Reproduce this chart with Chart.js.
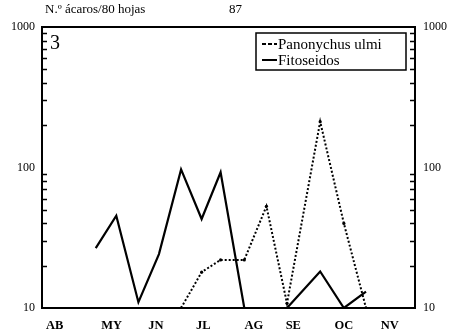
<!DOCTYPE html>
<html>
<head>
<meta charset="utf-8">
<script src="https://cdn.jsdelivr.net/npm/chart.js@4"></script>
<style>
html,body{margin:0;padding:0;background:#fff;overflow:hidden;}
canvas{display:block;}
</style>
</head>
<body>
<canvas id="c" width="455" height="334" style="width:455px;height:334px;"></canvas>
<script>
// Sampling dates: days counted from the start of the plotted period
const panonychusDays = [88, 101, 113, 128, 142, 155, 176, 191, 205];
const panonychusValues = [10, 18, 22, 22, 53, 10.8, 212, 40, 10];
const fitoseidosDays = [34, 47, 61, 74, 88, 101, 113, 128, 142, 155, 176, 191, 205];
const fitoseidosValues = [26.7, 45.4, 11, 24.2, 97, 43, 92.5, 10, 10, 10, 18.2, 10, 13.1];
const monthLabels = ['AB', 'MY', 'JN', 'JL', 'AG', 'SE', 'OC', 'NV'];
const monthTickDays = [8, 44, 72, 102, 134, 159, 191, 220];
const yTickValues = [10, 100, 1000];
const yMinorValues = [20, 30, 40, 50, 60, 70, 80, 90, 200, 300, 400, 500, 600, 700, 800, 900];
const seriesNames = ['Panonychus ulmi', 'Fitoseidos'];
const yAxisTitle = 'N.º ácaros/80 hojas';
const figureNumber = '87';
const panelLabel = '3';

const SERIF = '"Liberation Serif", "DejaVu Serif", serif';

const toXY = (xs, ys) => xs.map((x, i) => ({x: x, y: ys[i]}));

const framePlugin = {
  id: 'frame',
  afterDatasetsDraw(chart) {
    const {ctx, chartArea: a} = chart;
    const yl = chart.scales.y, yr = chart.scales.y2;
    ctx.save();
    ctx.strokeStyle = '#000';
    ctx.lineWidth = 2;
    ctx.strokeRect(a.left, a.top, a.right - a.left, a.bottom - a.top);
    ctx.lineWidth = 1.3;
    ctx.beginPath();
    yMinorValues.forEach(v => {
      const py = Math.round(yl.getPixelForValue(v)) + 0.5;
      ctx.moveTo(a.left, py); ctx.lineTo(a.left + 5, py);
      const py2 = Math.round(yr.getPixelForValue(v)) + 0.5;
      ctx.moveTo(a.right, py2); ctx.lineTo(a.right - 5, py2);
    });
    ctx.stroke();

    // panel number
    ctx.fillStyle = '#000';
    ctx.font = '20px ' + SERIF;
    ctx.textAlign = 'left';
    ctx.textBaseline = 'middle';
    ctx.fillText(panelLabel, a.left + 8, a.top + 17);

    // top texts
    ctx.font = '13px ' + SERIF;
    ctx.fillText(yAxisTitle, 45, 10);
    ctx.fillText(figureNumber, 229, 10);

    // legend box
    const lx = 256, ly = 33, lw = 150, lh = 37;
    ctx.lineWidth = 1.5;
    ctx.strokeRect(lx, ly, lw, lh);
    ctx.font = '15px ' + SERIF;
    chart.data.datasets.forEach((ds, i) => {
      const ry = ly + 11 + i * 16;
      ctx.save();
      ctx.strokeStyle = '#000';
      ctx.lineWidth = 2;
      ctx.setLineDash(ds.borderDash ? [4, 2] : []);
      ctx.beginPath();
      ctx.moveTo(lx + 6, ry); ctx.lineTo(lx + 21, ry);
      ctx.stroke();
      ctx.restore();
      ctx.fillText(ds.label, lx + 22, ry + 1);
    });
    ctx.restore();
  }
};

new Chart(document.getElementById('c'), {
  type: 'line',
  data: {
    datasets: [
      {
        label: seriesNames[0],
        data: toXY(panonychusDays, panonychusValues),
        borderColor: '#000',
        backgroundColor: '#000',
        borderWidth: 2,
        borderDash: [2, 2],
        pointRadius: 1.6,
        pointBorderWidth: 0,
        tension: 0,
        yAxisID: 'y'
      },
      {
        label: seriesNames[1],
        data: toXY(fitoseidosDays, fitoseidosValues),
        borderColor: '#000',
        backgroundColor: '#000',
        borderWidth: 2.2,
        pointRadius: 0,
        tension: 0,
        yAxisID: 'y'
      }
    ]
  },
  options: {
    responsive: false,
    animation: false,
    devicePixelRatio: 1,
    layout: {padding: {top: 27, left: 0, right: 0, bottom: 0}},
    plugins: {legend: {display: false}, tooltip: {enabled: false}},
    scales: {
      x: {
        type: 'linear',
        min: 0,
        max: 236,
        grid: {display: false, drawTicks: false},
        border: {display: false},
        afterBuildTicks: s => { s.ticks = monthTickDays.map(v => ({value: v})); },
        afterFit: s => { s.height = 26; },
        ticks: {
          autoSkip: false,
          maxRotation: 0,
          padding: 10,
          color: '#000',
          font: {family: SERIF, size: 12.5, weight: 'bold'},
          callback: (v, i) => monthLabels[i]
        }
      },
      y: {
        type: 'logarithmic',
        position: 'left',
        min: 10,
        max: 1000,
        grid: {display: false, drawTicks: false},
        border: {display: false},
        afterBuildTicks: s => { s.ticks = yTickValues.map(v => ({value: v})); },
        afterFit: s => { s.width = 42; },
        ticks: {
          padding: 7,
          color: '#000',
          font: {family: SERIF, size: 12},
          callback: v => String(v)
        }
      },
      y2: {
        type: 'logarithmic',
        position: 'right',
        min: 10,
        max: 1000,
        grid: {display: false, drawTicks: false},
        border: {display: false},
        afterBuildTicks: s => { s.ticks = yTickValues.map(v => ({value: v})); },
        afterFit: s => { s.width = 40; },
        ticks: {
          padding: 8,
          color: '#000',
          font: {family: SERIF, size: 12},
          callback: v => String(v)
        }
      }
    }
  },
  plugins: [framePlugin]
});
</script>
</body>
</html>
